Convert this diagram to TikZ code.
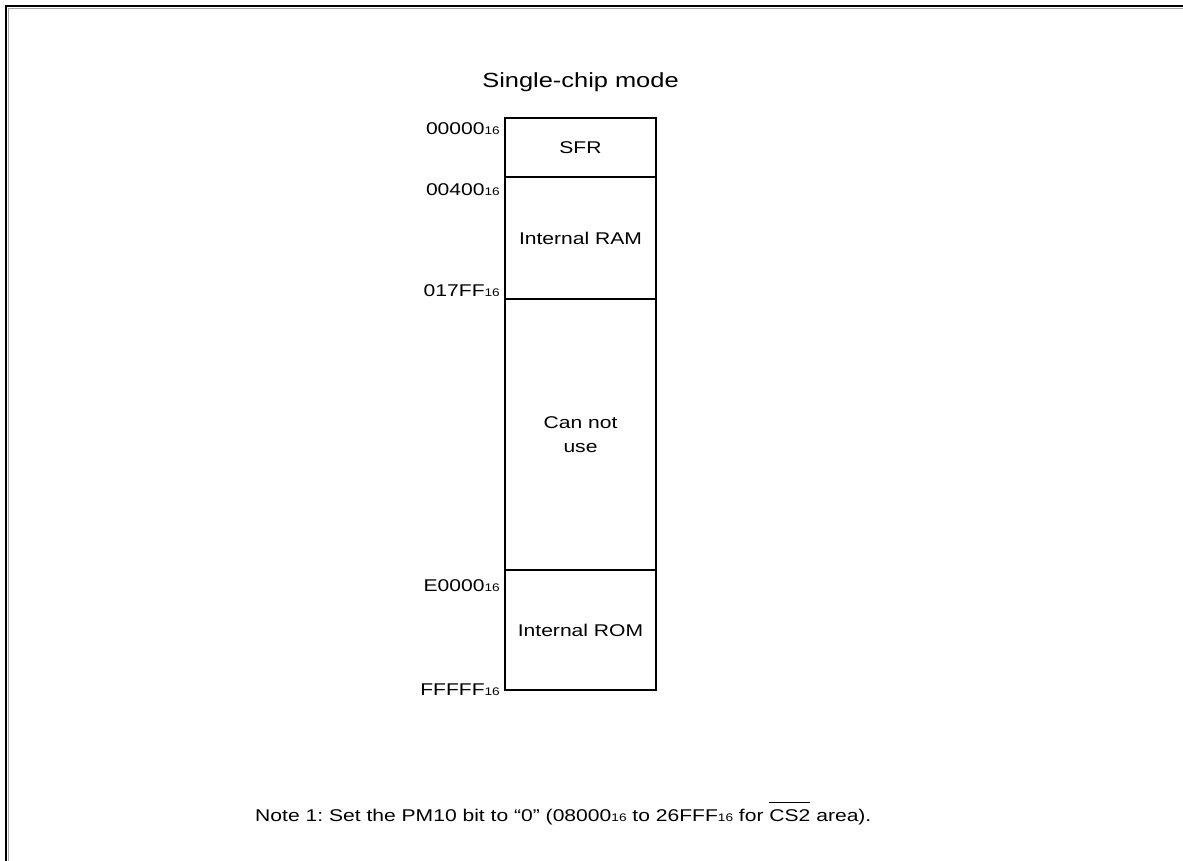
\documentclass[tikz,border=0pt]{standalone}
\usepackage{fontspec}
\setmainfont{Liberation Sans}
\usepackage{graphicx}
\usetikzlibrary{positioning}
\frenchspacing
\newcommand{\stretchtxt}[1]{\scalebox{1.24}[1]{#1}}
\newcommand{\addr}[1]{#1{\fontsize{11}{12}\selectfont 16}}
\newcommand{\barred}[1]{\vbox{\hrule height 1.6pt\kern 6pt\hbox{#1}}}
\tikzset{cell/.style={draw, line width=1.6pt, minimum width=151pt, inner sep=0pt,
  outer sep=0pt, align=center, font=\fontsize{17}{24}\selectfont},
  addrlbl/.style={anchor=base east, inner sep=0pt, font=\fontsize{17}{19}\selectfont}}

\begin{document}
\begin{tikzpicture}[x=1pt, y=-1pt]
\useasboundingbox (0,0) rectangle (1183,861);
% frame, cut at right and bottom
\draw[line width=2.4pt] (6.2,861) -- (6.2,6.2) -- (1183,6.2);
\draw[black!35, line width=1pt] (8.4,861) -- (8.4,8.4) -- (1183,8.4);
\node[anchor=base, inner sep=0pt, font=\fontsize{20.5}{24}\selectfont] (title) at (580.5,88) {\stretchtxt{Single-chip mode}};
% memory map
\node[cell, minimum height=59pt, anchor=north west] (sfr) at (505,118) {\stretchtxt{SFR}};
\node[cell, minimum height=122pt, below=0pt of sfr] (ram) {\stretchtxt{Internal RAM}};
\node[cell, minimum height=271pt, below=0pt of ram] (nouse) {\stretchtxt{Can not}\\\stretchtxt{use}};
\node[cell, minimum height=120pt, below=0pt of nouse] (rom) {\stretchtxt{Internal ROM}};
% addresses
\node[addrlbl] (a0) at (500,135) {\stretchtxt{\addr{00000}}};
\node[addrlbl] (a1) at (500,196) {\stretchtxt{\addr{00400}}};
\node[addrlbl] (a2) at (500,296) {\stretchtxt{\addr{017FF}}};
\node[addrlbl] (a3) at (500,591) {\stretchtxt{\addr{E0000}}};
\node[addrlbl] (a4) at (500,695) {\stretchtxt{\addr{FFFFF}}};
% note
\node[anchor=base west, inner sep=0pt, font=\fontsize{17}{19}\selectfont] (note) at (255,821)
  {\stretchtxt{Note 1: Set the PM10 bit to “0” (\addr{08000} to \addr{26FFF} for \barred{CS2} area).}};
\end{tikzpicture}
\end{document}
